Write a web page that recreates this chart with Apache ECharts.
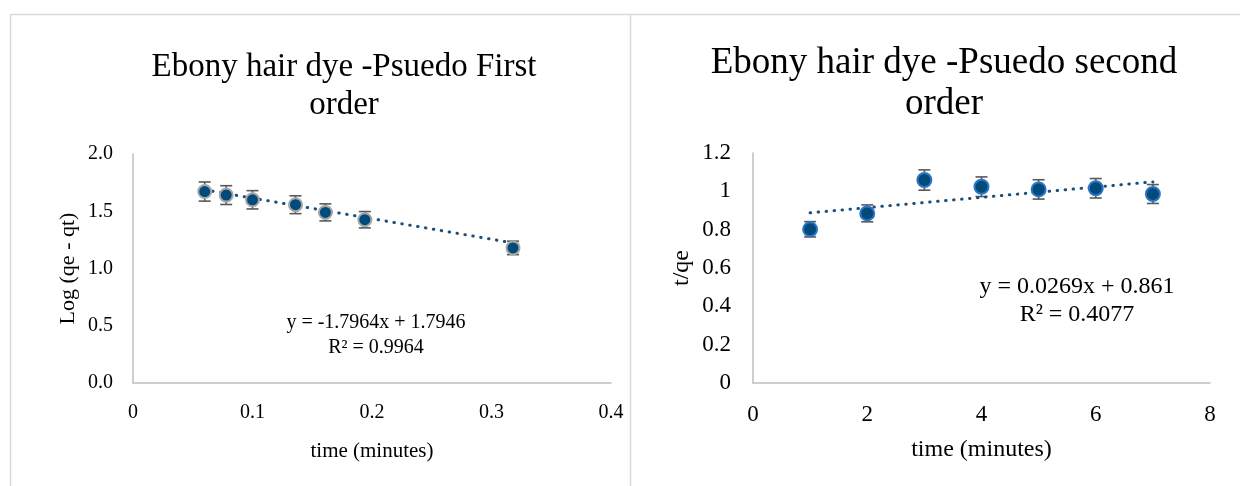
<!DOCTYPE html>
<html>
<head>
<meta charset="utf-8">
<script src="https://cdn.jsdelivr.net/npm/echarts@6/dist/echarts.min.js"></script>
<style>
  html, body { margin: 0; padding: 0; background: #fff; }
  #chart { width: 1240px; height: 486px; }
</style>
</head>
<body>
<div id="chart"></div>
<script>
// Pseudo first order: time vs log(qe - qt)
const firstOrderTime = [0.060, 0.078, 0.100, 0.136, 0.161, 0.194, 0.318];
const firstOrderLog  = [1.672, 1.641, 1.600, 1.557, 1.490, 1.426, 1.180];
const firstOrderFit  = { slope: -1.7964, intercept: 1.7946, r2: 0.9964 };

// Pseudo second order: time vs t/qe
const secondOrderTime = [1, 2, 3, 4, 5, 6, 7];
const secondOrderTq   = [0.802, 0.885, 1.059, 1.024, 1.010, 1.016, 0.986];
const secondOrderFit  = { slope: 0.0269, intercept: 0.861, r2: 0.4077 };

// Error bars are a fixed percentage of each value
const errorPercent = 0.05;

const leftTicks  = { min: 0, max: 0.4, interval: 0.1 };
const leftYTicks = { min: 0, max: 2.0, interval: 0.5 };
const rightTicks  = { min: 0, max: 8, interval: 2 };
const rightYTicks = { min: 0, max: 1.2, interval: 0.2 };

const serif = '"Liberation Serif", "Times New Roman", serif';
const axisGrey = '#bfbfbf';
const trendColor = '#18507d';

function pairs(xs, ys) { return xs.map((x, i) => [x, ys[i]]); }

function trendPoints(xs, fit) {
  const lo = Math.min(...xs), hi = Math.max(...xs);
  return [[lo, fit.slope * lo + fit.intercept], [hi, fit.slope * hi + fit.intercept]];
}

function fmtEq(fit) {
  const sign = fit.intercept < 0 ? '-' : '+';
  return 'y = ' + fit.slope + 'x ' + sign + ' ' + Math.abs(fit.intercept);
}

function errorSeries(xs, ys, idx) {
  return {
    type: 'custom',
    xAxisIndex: idx, yAxisIndex: idx,
    data: xs.map((x, i) => [x, ys[i] * (1 - errorPercent), ys[i] * (1 + errorPercent)]),
    z: 1,
    renderItem: function (params, api) {
      const lo = api.coord([api.value(0), api.value(1)]);
      const hi = api.coord([api.value(0), api.value(2)]);
      const cap = 6;
      const style = { stroke: '#595959', lineWidth: 1.6 };
      return {
        type: 'group',
        children: [
          { type: 'line', shape: { x1: lo[0], y1: lo[1], x2: hi[0], y2: hi[1] }, style },
          { type: 'line', shape: { x1: lo[0] - cap, y1: lo[1], x2: lo[0] + cap, y2: lo[1] }, style },
          { type: 'line', shape: { x1: hi[0] - cap, y1: hi[1], x2: hi[0] + cap, y2: hi[1] }, style }
        ]
      };
    }
  };
}

function xAxisCfg(idx, ticks, fs, nameFs, gap) {
  return {
    type: 'value', gridIndex: idx, min: ticks.min, max: ticks.max, interval: ticks.interval,
    name: 'time (minutes)', nameLocation: 'middle', nameGap: gap,
    nameTextStyle: { fontFamily: serif, fontSize: nameFs, color: '#000' },
    axisLine: { show: true, lineStyle: { color: axisGrey, width: 1.5 } },
    axisTick: { show: false }, splitLine: { show: false },
    axisLabel: { fontFamily: serif, fontSize: fs, color: '#000', margin: 20 }
  };
}

function yAxisCfg(idx, ticks, name, gap, fs, nameFs, margin, fmt) {
  return {
    type: 'value', gridIndex: idx, min: ticks.min, max: ticks.max, interval: ticks.interval,
    name: name, nameLocation: 'middle', nameGap: gap,
    nameTextStyle: { fontFamily: serif, fontSize: nameFs, color: '#000' },
    axisLine: { show: true, lineStyle: { color: axisGrey, width: 1.5 } },
    axisTick: { show: false }, splitLine: { show: false },
    axisLabel: { fontFamily: serif, fontSize: fs, color: '#000', margin: margin, formatter: fmt }
  };
}

const chart = echarts.init(document.getElementById('chart'));

chart.setOption({
  animation: false,
  backgroundColor: '#fff',
  title: [
    {
      text: 'Ebony hair dye -Psuedo First\norder',
      left: 339, top: 43, textAlign: 'center',
      textStyle: { fontFamily: serif, fontSize: 33, fontWeight: 'normal', color: '#000', lineHeight: 38 }
    },
    {
      text: 'Ebony hair dye -Psuedo second\norder',
      left: 939, top: 38, textAlign: 'center',
      textStyle: { fontFamily: serif, fontSize: 37, fontWeight: 'normal', color: '#000', lineHeight: 41 }
    }
  ],
  grid: [
    { left: 133, top: 154, width: 478, height: 229 },
    { left: 753, top: 153, width: 457, height: 230 }
  ],
  xAxis: [
    xAxisCfg(0, leftTicks, 20, 21, 58),
    xAxisCfg(1, rightTicks, 23, 24, 55)
  ],
  yAxis: [
    yAxisCfg(0, leftYTicks, 'Log (qe - qt)', 54, 20, 22, 20, v => v.toFixed(1)),
    yAxisCfg(1, rightYTicks, 't/qe', 59, 23, 24, 22, v => String(+v.toFixed(1)))
  ],
  series: [
    {
      type: 'line', xAxisIndex: 0, yAxisIndex: 0,
      data: trendPoints(firstOrderTime, firstOrderFit),
      symbol: 'none', z: 2,
      lineStyle: { color: trendColor, width: 3, type: [0.5, 7.5], cap: 'round' }
    },
    errorSeries(firstOrderTime, firstOrderLog, 0),
    {
      type: 'scatter', xAxisIndex: 0, yAxisIndex: 0,
      data: pairs(firstOrderTime, firstOrderLog),
      symbolSize: 13, z: 3,
      itemStyle: { color: '#004a7c', borderColor: '#a6a6a6', borderWidth: 2, opacity: 1 }
    },
    {
      type: 'line', xAxisIndex: 1, yAxisIndex: 1,
      data: trendPoints(secondOrderTime, secondOrderFit),
      symbol: 'none', z: 2,
      lineStyle: { color: trendColor, width: 3, type: [0.5, 7.5], cap: 'round' }
    },
    errorSeries(secondOrderTime, secondOrderTq, 1),
    {
      type: 'scatter', xAxisIndex: 1, yAxisIndex: 1,
      data: pairs(secondOrderTime, secondOrderTq),
      symbolSize: 14, z: 3,
      itemStyle: { color: '#004a7c', borderColor: '#2e75c6', borderWidth: 2, opacity: 1 }
    }
  ],
  graphic: [
    // panel frames
    { type: 'line', shape: { x1: 10, y1: 14.5, x2: 1240, y2: 14.5 }, style: { stroke: '#d9d9d9', lineWidth: 1.5 }, silent: true },
    { type: 'line', shape: { x1: 10.5, y1: 14, x2: 10.5, y2: 486 }, style: { stroke: '#d9d9d9', lineWidth: 1.5 }, silent: true },
    { type: 'line', shape: { x1: 630.5, y1: 14, x2: 630.5, y2: 486 }, style: { stroke: '#d9d9d9', lineWidth: 1.5 }, silent: true },
    // trendline equations
    {
      type: 'text', silent: true,
      style: {
        x: 376, y: 335, text: fmtEq(firstOrderFit) + '\nR² = ' + firstOrderFit.r2,
        font: '20px ' + serif, fill: '#000', align: 'center', verticalAlign: 'middle', lineHeight: 25
      }
    },
    {
      type: 'text', silent: true,
      style: {
        x: 1077, y: 301, text: fmtEq(secondOrderFit) + '\nR² = ' + secondOrderFit.r2,
        font: '24px ' + serif, fill: '#000', align: 'center', verticalAlign: 'middle', lineHeight: 28
      }
    }
  ]
});
</script>
</body>
</html>
